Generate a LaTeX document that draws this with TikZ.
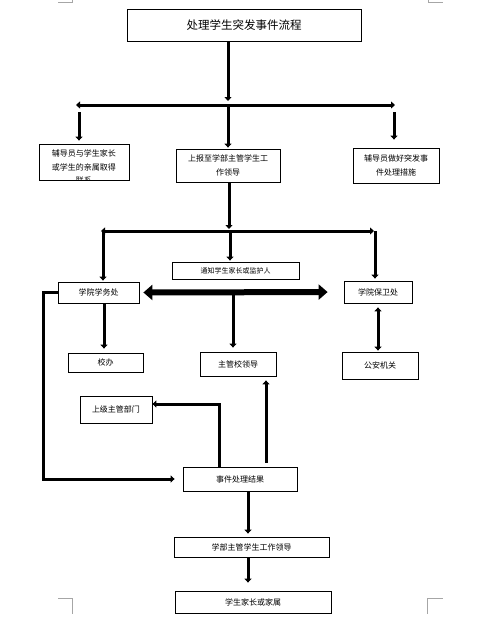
\documentclass[tikz,border=0pt]{standalone}
\usepackage{fontspec}
\newfontfamily\cjk{Noto Sans CJK SC}
\usetikzlibrary{arrows.meta}

\begin{document}
\begin{tikzpicture}[x=1pt, y=-1pt,
  box/.style={draw, line width=0.8pt, fill=white, inner sep=0pt, align=center,
    font=\cjk\fontsize{8}{13.5}\selectfont},
  ln/.style={line width=3pt},
  arr/.style={ln, -{Triangle[width=7pt,length=4pt]}},
  dbl/.style={ln, {Triangle[width=7pt,length=4pt]}-{Triangle[width=7pt,length=4pt]}},
  fat/.style={line width=6pt, {Triangle[width=15pt,length=9pt]}-{Triangle[width=15pt,length=9pt]}},
  cornermark/.style={draw=black!35, line width=0.6pt}]
  \useasboundingbox (0,0) rectangle (496,641);
  % page corners
  \draw[cornermark] (58,2) -- (72,2) -- (72,0);
  \draw[cornermark] (428,0) -- (428,2) -- (443,2);
  \draw[cornermark] (58,598) -- (72,598) -- (72,614);
  \draw[cornermark] (427,614) -- (427,598) -- (443,598);

  \node[box, minimum width=234pt, minimum height=32pt, font=\cjk\fontsize{11.5}{14}\selectfont] (title) at (244,25) {处理学生突发事件流程};
  \node[box, minimum width=90pt, minimum height=36pt] (b1) at (84,162) {};
  \begin{scope}
    \clip (b1.south west) rectangle (b1.north east);
    \node[box, draw=none, fill=none] (b1t) at (84,167) {辅导员与学生家长\\或学生的亲属取得\\联系};
  \end{scope}
  \node[box, minimum width=104pt, minimum height=33pt] (b2) at (228,165.5) {上报至学部主管学生工\\作领导};
  \node[box, minimum width=86pt, minimum height=35pt] (b3) at (396,165.5) {辅导员做好突发事\\件处理措施};
  \node[box, minimum width=127pt, minimum height=17pt, font=\cjk\fontsize{7}{9}\selectfont] (tz) at (235.5,270.5) {通知学生家长或监护人};
  \node[box, minimum width=81pt, minimum height=21pt] (xwc) at (98.5,292.5) {学院学务处};
  \node[box, minimum width=68pt, minimum height=22pt] (bwc) at (378,292) {学院保卫处};
  \node[box, minimum width=75pt, minimum height=19pt] (xb) at (105.5,362.5) {校办};
  \node[box, minimum width=76pt, minimum height=24pt] (zgx) at (238,364) {主管校领导};
  \node[box, minimum width=76pt, minimum height=27pt] (ga) at (380,365.5) {公安机关};
  \node[box, minimum width=72pt, minimum height=27pt] (sj) at (116,409.5) {上级主管部门};
  \node[box, minimum width=114pt, minimum height=24pt] (res) at (240,479) {事件处理结果};
  \node[box, minimum width=155pt, minimum height=20pt] (ld) at (251.5,547) {学部主管学生工作领导};
  \node[box, minimum width=156pt, minimum height=22pt] (jz) at (253,602) {学生家长或家属};

  % first split
  \coordinate (j1) at (228,105);
  \coordinate (l1) at (76,105);
  \coordinate (r1) at (395,105);
  \coordinate (s1) at (79,112);
  \coordinate (s3) at (394,112);
  \draw[arr, shorten >=4pt] (title.south -| j1) -- (j1);
  \draw[dbl] (l1) -- (r1);
  \draw[arr, shorten >=3pt] (s1) -- (b1.north -| s1);
  \draw[arr, shorten >=1pt] (j1) -- (b2.north);
  \draw[arr, shorten >=8pt] (s3) -- (b3.north -| s3);

  % second split
  \coordinate (j2) at (229,231);
  \coordinate (l2) at (101,231);
  \coordinate (r2) at (374,231);
  \coordinate (t1) at (103,231);
  \coordinate (t2) at (230,231);
  \coordinate (t3) at (375,231);
  \draw[arr, shorten >=2pt] (b2.south -| j2) -- (j2);
  \draw[dbl] (l2) -- (r2);
  \draw[arr, shorten >=1pt] (t1) -- (xwc.north -| t1);
  \draw[arr, shorten >=1pt] (t2) -- (tz.north -| t2);
  \draw[arr, shorten >=2pt] (t3) -- (bwc.north -| t3);

  % third row
  \coordinate (m) at (233,292);
  \coordinate (k) at (104,0);
  \draw[fat, shorten <=4pt, shorten >=16pt] (xwc.east) -- (bwc.west);
  \draw[arr, shorten <=3pt, shorten >=4pt] (m) -- (zgx.north -| m);
  \draw[arr, shorten >=4pt] (xwc.south -| k) -- (xb.north -| k);
  \draw[dbl, shorten <=4pt, shorten >=1pt] (bwc.south) -- (ga.north -| bwc.south);

  % results
  \coordinate (c1) at (43,479);
  \coordinate (c2) at (219,404);
  \coordinate (c3) at (266,0);
  \coordinate (c4) at (248,0);
  \draw[arr, shorten >=8pt] (xwc.west) -| (c1) -- (res.west);
  \draw[arr] (res.north -| c2) -- (c2) -- (c2 -| sj.east);
  \draw[arr, shorten <=4pt, shorten >=4pt] (res.north -| c3) -- (zgx.south -| c3);
  \draw[arr, shorten >=3pt] (res.south -| c4) -- (ld.north -| c4);
  \draw[arr, shorten >=8pt] (ld.south -| c4) -- (jz.north -| c4);
\end{tikzpicture}
\end{document}
